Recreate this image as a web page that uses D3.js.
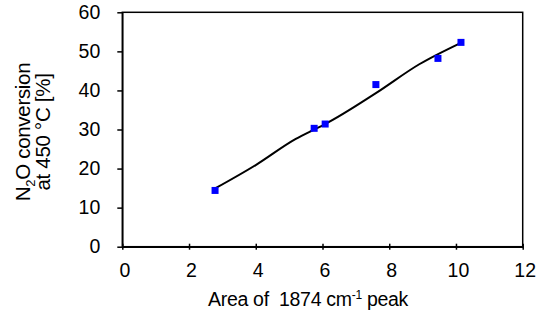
<!DOCTYPE html>
<html>
<head>
    <meta charset="utf-8">
    <title>N2O conversion</title>
    <script src="https://d3js.org/d3.v7.min.js"></script>
    <style>
        body { margin: 0; background: #fff; }
        text { font-family: "Liberation Sans", Arial, sans-serif; }
    </style>
</head>
<body>
    <script>
        // measured points
        const peakArea = [2.78, 5.75, 6.08, 7.6, 9.46, 10.15];
        const conversion = [14.4, 30.3, 31.4, 41.5, 48.2, 52.3];

        // fitted trend line
        const fitX = [2.78, 4.0, 5.2, 5.75, 6.08, 7.6, 8.9, 10.15];
        const fitY = [14.9, 20.9, 27.6, 30.0, 31.4, 39.3, 46.7, 52.2];

        const xTicks = [0, 2, 4, 6, 8, 10, 12];
        const yTicks = [0, 10, 20, 30, 40, 50, 60];

        const width = 541, height = 321;
        const plotL = 122.3, plotR = 522.7, plotT = 12.3, plotB = 246.7;

        const svg = d3.select("body").append("svg")
            .attr("width", width)
            .attr("height", height);

        const x = d3.scaleLinear().domain([0, 12]).range([plotL, plotR]);
        const y = d3.scaleLinear().domain([0, 60]).range([plotB, plotT]);

        // plot frame
        svg.append("rect")
            .attr("x", plotL).attr("y", plotT)
            .attr("width", plotR - plotL).attr("height", plotB - plotT)
            .attr("fill", "none").attr("stroke", "#000").attr("stroke-width", 1.5);

        // y axis
        const yAxis = svg.append("g")
            .attr("transform", `translate(${plotL},0)`)
            .call(d3.axisLeft(y).tickValues(yTicks).tickSize(5).tickPadding(17).tickSizeOuter(0));
        yAxis.select(".domain").attr("stroke-width", 1.5);
        yAxis.selectAll(".tick line").attr("stroke-width", 1.5);
        yAxis.selectAll("text")
            .attr("font-size", 19.5).attr("fill", "#000")
            .attr("font-family", "Liberation Sans, Arial, sans-serif");

        // x axis
        const xAxis = svg.append("g")
            .attr("transform", `translate(0,${plotB})`)
            .call(d3.axisBottom(x).tickValues(xTicks).tickSize(3).tickPadding(13).tickSizeOuter(0));
        xAxis.select(".domain").attr("stroke-width", 1.5);
        xAxis.selectAll(".tick line").attr("y1", -3).attr("stroke-width", 1.5);
        xAxis.selectAll("text")
            .attr("font-size", 19.5).attr("fill", "#000")
            .attr("dx", 2)
            .attr("font-family", "Liberation Sans, Arial, sans-serif");

        // trend line
        const line = d3.line()
            .x((d, i) => x(fitX[i]))
            .y(d => y(d))
            .curve(d3.curveMonotoneX);
        svg.append("path")
            .datum(fitY)
            .attr("d", line)
            .attr("fill", "none")
            .attr("stroke", "#000")
            .attr("stroke-width", 2);

        // markers
        svg.selectAll("rect.pt")
            .data(peakArea)
            .enter().append("rect")
            .attr("class", "pt")
            .attr("x", d => x(d) - 3.5)
            .attr("y", (d, i) => y(conversion[i]) - 3.5)
            .attr("width", 7)
            .attr("height", 7)
            .attr("fill", "#0000ff");

        // x title
        const xt = svg.append("text")
            .attr("x", 308).attr("y", 306)
            .attr("text-anchor", "middle")
            .attr("font-size", 19.5)
            .attr("letter-spacing", -0.3);
        xt.append("tspan").text("Area of\u00a0 1874 cm");
        xt.append("tspan").attr("font-size", 12).attr("dy", -7).text("-1");
        xt.append("tspan").attr("dy", 7).text(" peak");

        // y title (two lines)
        const yt = svg.append("g").attr("transform", "translate(0,132) rotate(-90)");
        const l1 = yt.append("text")
            .attr("x", 0).attr("y", 30)
            .attr("text-anchor", "middle")
            .attr("font-size", 20.5)
            .attr("letter-spacing", -0.3);
        l1.append("tspan").text("N");
        l1.append("tspan").attr("font-size", 13).attr("dy", 5).text("2");
        l1.append("tspan").attr("dy", -5).text("O conversion");
        yt.append("text")
            .attr("x", 0).attr("y", 50)
            .attr("text-anchor", "middle")
            .attr("font-size", 20.5)
            .attr("letter-spacing", -0.3)
            .text("at 450 °C [%]");
    </script>
</body>
</html>
